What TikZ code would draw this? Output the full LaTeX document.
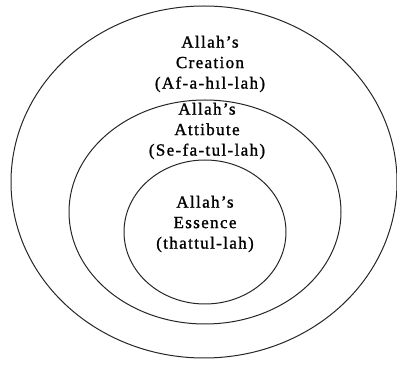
\documentclass[tikz,border=0pt]{standalone}
\usepackage{fontspec}
\setmainfont{Liberation Serif}[LetterSpace=8,FakeBold=1.2]
\begin{document}
\begin{tikzpicture}[x=1pt,y=-1pt,
  ring/.style={draw=black!85,line width=1pt},
  lbl/.style={align=center,font=\fontsize{17}{20.5}\selectfont,inner sep=0pt}]
\useasboundingbox (0,0) rectangle (397,379);
\draw[ring] (204,182) ellipse [x radius=193, y radius=176];
\draw[ring] (205,212) ellipse [x radius=136, y radius=112];
\draw[ring] (205,232) ellipse [x radius=81, y radius=72];
\node[lbl] (creation) at (210,64) {Allah’s\\Creation\\(Af-a-hıl-lah)};
\node[lbl] (attribute) at (207,131) {Allah’s\\Attibute\\(Se-fa-tul-lah)};
\node[lbl] (essence) at (205,224) {Allah’s\\Essence\\(thattul-lah)};
\end{tikzpicture}
\end{document}
